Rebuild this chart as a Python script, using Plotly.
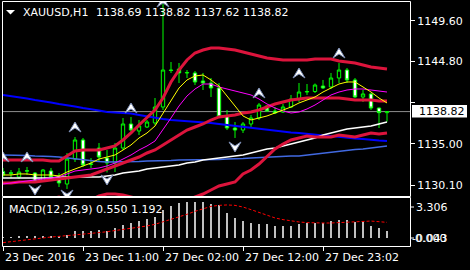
import plotly.graph_objects as go

W, H = 470, 270
FONT = "DejaVu Sans"

# ---------------- data ----------------
bar_index = list(range(49))
time_ticks = [0, 10, 20, 30, 40]
time_labels = ["23 Dec 2016", "23 Dec 11:00", "27 Dec 02:00", "27 Dec 12:00", "27 Dec 23:02"]

opens = [1131.69, 1131.55, 1131.06, 1131.75, 1131.53, 1130.59, 1131.77, 1131.18, 1130.23, 1133.19,
         1135.45, 1132.55, 1134.50, 1133.31, 1132.72, 1134.50, 1137.35, 1136.52, 1136.99, 1137.47,
         1139.36, 1143.75, 1143.87, 1143.40, 1143.40, 1142.45, 1142.21, 1141.62, 1138.30, 1136.87,
         1136.63, 1137.35, 1138.06, 1139.48, 1138.89, 1138.77, 1139.36, 1140.31, 1141.14, 1141.20,
         1141.85, 1141.74, 1142.80, 1143.75, 1142.57, 1140.55, 1140.91, 1139.24, 1138.69]
highs = [1132.13, 1131.89, 1132.13, 1132.25, 1131.65, 1132.01, 1132.13, 1131.53, 1133.91, 1135.80,
         1135.69, 1133.31, 1135.09, 1134.26, 1135.09, 1138.06, 1138.18, 1137.82, 1137.82, 1140.43,
         1151.70, 1144.70, 1144.58, 1143.75, 1143.63, 1143.40, 1142.80, 1142.21, 1139.01, 1137.58,
         1137.58, 1138.42, 1139.84, 1139.60, 1139.36, 1139.72, 1140.79, 1142.21, 1142.09, 1142.15,
         1142.57, 1143.40, 1144.58, 1143.99, 1142.80, 1141.38, 1141.02, 1139.30, 1138.82]
lows = [1130.94, 1130.94, 1130.82, 1131.30, 1130.35, 1130.47, 1130.82, 1129.87, 1129.64, 1132.84,
        1132.25, 1132.13, 1132.96, 1131.60, 1131.65, 1134.26, 1136.28, 1136.04, 1136.87, 1137.23,
        1139.01, 1143.40, 1142.21, 1142.80, 1141.97, 1141.38, 1140.55, 1138.06, 1136.63, 1135.69,
        1136.28, 1136.87, 1137.82, 1138.77, 1138.53, 1138.65, 1139.24, 1139.96, 1140.79, 1141.02,
        1141.50, 1141.50, 1142.21, 1142.21, 1140.43, 1139.96, 1139.01, 1136.87, 1137.62]
closes = [1131.30, 1131.50, 1131.65, 1131.80, 1130.47, 1131.89, 1131.06, 1130.35, 1133.19, 1135.45,
          1132.48, 1132.60, 1133.43, 1132.72, 1134.50, 1137.35, 1136.63, 1137.11, 1137.58, 1139.36,
          1143.75, 1143.70, 1143.40, 1143.45, 1142.33, 1142.21, 1141.62, 1138.18, 1136.87, 1136.63,
          1137.35, 1138.06, 1139.60, 1138.89, 1138.65, 1139.36, 1140.31, 1141.14, 1141.20, 1141.97,
          1141.62, 1142.80, 1143.75, 1142.57, 1140.55, 1140.91, 1139.24, 1138.69, 1138.82]

ma_yellow = [1131.30, 1131.30, 1131.42, 1131.42, 1131.30, 1131.30, 1131.30, 1131.18, 1131.65, 1132.01,
             1132.37, 1132.72, 1133.19, 1133.43, 1133.67, 1134.26, 1134.86, 1135.69, 1136.28, 1137.11,
             1138.65, 1140.19, 1141.62, 1142.57, 1143.04, 1143.16, 1142.57, 1141.85, 1140.67, 1139.36,
             1138.30, 1137.82, 1138.06, 1138.30, 1138.65, 1139.01, 1139.36, 1139.84, 1140.19, 1140.55,
             1141.14, 1141.62, 1142.09, 1142.33, 1142.33, 1141.74, 1141.14, 1140.43, 1139.84]
ma_magenta = [1130.23, 1130.35, 1130.47, 1130.59, 1130.70, 1130.82, 1130.94, 1131.06, 1131.42, 1131.77,
              1131.89, 1132.01, 1132.13, 1132.37, 1132.72, 1133.19, 1133.67, 1134.26, 1134.74, 1135.33,
              1136.63, 1138.06, 1139.48, 1140.67, 1141.50, 1142.09, 1142.09, 1141.74, 1141.50, 1141.26,
              1141.02, 1140.79, 1140.31, 1139.72, 1139.24, 1138.89, 1138.65, 1138.77, 1139.13, 1139.60,
              1140.19, 1140.79, 1141.14, 1141.38, 1141.50, 1141.50, 1141.38, 1141.26, 1141.14]
bb_upper = [1133.08, 1133.08, 1133.08, 1133.08, 1133.08, 1133.08, 1132.96, 1132.96, 1133.55, 1134.14,
            1134.26, 1134.26, 1134.26, 1134.50, 1134.74, 1135.45, 1136.28, 1137.23, 1138.18, 1139.01,
            1140.43, 1142.33, 1143.75, 1144.94, 1145.77, 1146.12, 1146.36, 1146.36, 1146.24, 1146.12,
            1145.89, 1145.65, 1145.41, 1145.18, 1145.06, 1144.94, 1144.94, 1144.94, 1144.94, 1145.06,
            1145.06, 1145.06, 1144.82, 1144.70, 1144.58, 1144.35, 1144.11, 1143.99, 1143.87]
bb_middle = [1130.35, 1130.35, 1130.47, 1130.47, 1130.47, 1130.59, 1130.70, 1130.82, 1130.94, 1131.06,
             1131.18, 1131.30, 1131.65, 1132.01, 1132.37, 1132.72, 1133.08, 1133.43, 1133.91, 1134.26,
             1134.86, 1135.45, 1136.04, 1136.63, 1136.99, 1137.35, 1137.82, 1138.18, 1138.30, 1138.42,
             1138.65, 1138.77, 1139.01, 1139.36, 1139.72, 1139.96, 1140.19, 1140.31, 1140.43, 1140.43,
             1140.43, 1140.43, 1140.43, 1140.31, 1140.19, 1140.19, 1140.19, 1140.08, 1140.08]
bb_lower = [1127.62, 1127.62, 1127.86, 1127.86, 1127.86, 1128.09, 1128.45, 1128.69, 1128.33, 1127.97,
            1128.09, 1128.33, 1128.81, 1129.04, 1129.04, 1128.92, 1128.69, 1128.45, 1128.33, 1128.21,
            1127.97, 1127.74, 1127.86, 1128.33, 1128.69, 1129.04, 1129.52, 1129.99, 1130.23, 1130.47,
            1131.42, 1131.89, 1132.60, 1133.55, 1134.38, 1134.97, 1135.45, 1135.69, 1135.92, 1135.80,
            1135.80, 1135.80, 1136.04, 1135.92, 1135.80, 1136.04, 1136.28, 1136.16, 1136.28]
ma_blue = [1140.79, 1140.67, 1140.55, 1140.37, 1140.19, 1140.08, 1139.90, 1139.72, 1139.60, 1139.42,
           1139.24, 1139.13, 1138.95, 1138.77, 1138.71, 1138.65, 1138.59, 1138.42, 1138.24, 1138.06,
           1137.94, 1137.82, 1137.76, 1137.70, 1137.64, 1137.58, 1137.47, 1137.35, 1137.23, 1137.11,
           1136.99, 1136.87, 1136.75, 1136.63, 1136.52, 1136.40, 1136.34, 1136.28, 1136.16, 1136.04,
           1135.98, 1135.92, 1135.80, 1135.69, 1135.63, 1135.57, 1135.45, 1135.39, 1135.33]
ma_royal = [1133.67, 1133.67, 1133.67, 1133.61, 1133.55, 1133.55, 1133.49, 1133.43, 1133.31, 1133.19,
            1133.08, 1132.96, 1132.90, 1132.84, 1132.84, 1132.84, 1132.84, 1132.90, 1132.96, 1132.96,
            1132.96, 1133.02, 1133.08, 1133.08, 1133.08, 1133.08, 1133.08, 1133.14, 1133.19, 1133.19,
            1133.25, 1133.31, 1133.37, 1133.43, 1133.43, 1133.49, 1133.55, 1133.55, 1133.67, 1133.79,
            1133.91, 1134.03, 1134.14, 1134.26, 1134.32, 1134.38, 1134.50, 1134.62, 1134.74]
ma_white = [1130.94, 1130.94, 1130.94, 1130.94, 1130.94, 1130.94, 1130.94, 1131.06, 1131.06, 1131.06,
            1131.06, 1131.06, 1131.06, 1131.18, 1131.30, 1131.53, 1131.65, 1131.77, 1132.01, 1132.13,
            1132.25, 1132.37, 1132.48, 1132.72, 1132.84, 1133.08, 1133.19, 1133.31, 1133.43, 1133.55,
            1133.67, 1133.91, 1134.14, 1134.38, 1134.50, 1134.74, 1134.97, 1135.21, 1135.45, 1135.69,
            1136.04, 1136.28, 1136.52, 1136.75, 1136.87, 1136.99, 1137.11, 1137.35, 1137.58]

# fractal arrows: bar index and price of the arrow tip
fractal_up_x = [0, 3, 9, 16, 20, 32, 37, 42]
fractal_up_y = [1134.03, 1134.03, 1137.58, 1139.84, 1152.41, 1141.62, 1143.99, 1146.36]
fractal_dn_x = [4, 8, 13, 29]
fractal_dn_y = [1128.92, 1128.33, 1130.11, 1134.03]

macd_hist = [0.01, 0.01, 0.09, 0.11, 0.11, 0.11, 0.14, 0.14, 0.22, 0.55,
             0.55, 0.55, 0.63, 0.55, 0.73, 0.99, 1.17, 1.29, 1.42, 1.60,
             2.14, 2.45, 2.66, 2.78, 2.78, 2.78, 2.60, 2.53, 1.94, 1.55,
             1.29, 1.11, 1.06, 1.03, 0.93, 0.93, 0.93, 1.06, 1.11, 1.11,
             1.17, 1.32, 1.37, 1.37, 1.24, 1.24, 0.93, 0.73, 0.55]
macd_signal = [-0.37, -0.30, -0.20, -0.12, -0.04, 0.01, 0.06, 0.11, 0.16, 0.22,
               0.27, 0.32, 0.40, 0.47, 0.55, 0.63, 0.70, 0.81, 0.91, 1.04,
               1.22, 1.42, 1.60, 1.81, 2.04, 2.24, 2.42, 2.50, 2.53, 2.50,
               2.37, 2.17, 1.94, 1.71, 1.53, 1.40, 1.29, 1.22, 1.17, 1.14,
               1.14, 1.14, 1.17, 1.19, 1.22, 1.27, 1.29, 1.24, 1.19]

price_ticks = [1149.60, 1144.80, 1139.90, 1135.00, 1130.10]
price_tick_text = ["1149.60", "1144.80", "", "1135.00", "1130.10"]   # 1139.90 hidden under price box
last_price = 1138.82
header_symbol = "XAUUSD,H1"
header_ohlc = "1138.69 1138.82 1137.62 1138.82"
macd_label = "MACD(12,26,9) 0.550 1.192"
macd_top_label = "3.306"
macd_bottom_labels = ["0.000", "-0.043"]

# ---------------- layout helpers ----------------
def px(x):
    return x / W

def py(y):
    return 1 - y / H

PLOT_L, PLOT_R = 3, 410
MAIN_T, MAIN_B = 2, 196
MACD_T, MACD_B = 198, 246
BAR_PX = 8.0
ppx = 0.11862  # price per pixel on the main panel

fig = go.Figure()

fig.add_trace(go.Candlestick(
    x=bar_index, open=opens, high=highs, low=lows, close=closes,
    increasing=dict(line=dict(color="#00ff00", width=1), fillcolor="#000000"),
    decreasing=dict(line=dict(color="#00ff00", width=1), fillcolor="#ffffff"),
    whiskerwidth=0, hoverinfo="skip", xaxis="x", yaxis="y", showlegend=False))

def add_line(y, color, width, dash=None):
    fig.add_trace(go.Scatter(x=bar_index, y=y, mode="lines",
                             line=dict(color=color, width=width, dash=dash),
                             hoverinfo="skip", showlegend=False, xaxis="x", yaxis="y"))

add_line(ma_blue, "#0000ff", 2)
add_line(ma_royal, "#4169e1", 1.5)
add_line(ma_white, "#ffffff", 1.5)
add_line(bb_upper, "#dc143c", 3)
add_line(bb_middle, "#dc143c", 3)
add_line(bb_lower, "#dc143c", 3)
add_line(ma_magenta, "#ff00ff", 1)
add_line(ma_yellow, "#ffff00", 1)

# fractal arrowheads (notched), size given in pixels, converted through the axis scales
hw = 6 / BAR_PX          # half width
ah = 10 * ppx            # height
an = 6 * ppx             # notch depth
def arrow_path(xs, ys, direction):
    X, Y = [], []
    for x0, y0 in zip(xs, ys):
        s = -direction
        X += [x0, x0 - hw, x0, x0 + hw, x0, None]
        Y += [y0, y0 + s * ah, y0 + s * an, y0 + s * ah, y0, None]
    return X, Y

for xs, ys, d in [(fractal_up_x, fractal_up_y, 1), (fractal_dn_x, fractal_dn_y, -1)]:
    X, Y = arrow_path(xs, ys, d)
    fig.add_trace(go.Scatter(x=X, y=Y, mode="lines", fill="toself", fillcolor="#ffffff",
                             line=dict(color="#7c8db5", width=1), connectgaps=False,
                             hoverinfo="skip", showlegend=False, xaxis="x", yaxis="y"))

fig.add_trace(go.Bar(x=bar_index, y=macd_hist, width=0.13, marker=dict(color="#c0c0c0", line=dict(width=0)),
                     hoverinfo="skip", showlegend=False, xaxis="x2", yaxis="y2"))
fig.add_trace(go.Scatter(x=bar_index, y=macd_signal, mode="lines",
                         line=dict(color="#ff0000", width=1, dash="3px,2px"),
                         hoverinfo="skip", showlegend=False, xaxis="x2", yaxis="y2"))

xr = [0, (PLOT_R - PLOT_L) / BAR_PX]
y_top = 1149.60 + (20.7 - MAIN_T) * ppx
y_bot = 1149.60 - (MAIN_B - 20.7) * ppx

shapes = []
shapes.append(dict(type="line", xref="paper", yref="y", x0=px(PLOT_L), x1=px(PLOT_R),
                   y0=last_price, y1=last_price, line=dict(color="#8c8c8c", width=1), layer="below"))
for (t, b) in [(MAIN_T, MAIN_B), (MACD_T, MACD_B)]:
    shapes.append(dict(type="rect", xref="paper", yref="paper", x0=px(PLOT_L - 0.5), x1=px(PLOT_R + 0.5),
                       y0=py(b + 0.5), y1=py(t - 0.5), line=dict(color="#ffffff", width=1)))
for yy in [207, 238]:
    shapes.append(dict(type="line", xref="paper", yref="paper", x0=px(PLOT_R), x1=px(PLOT_R + 4),
                       y0=py(yy), y1=py(yy), line=dict(color="#ffffff", width=1)))
shapes.append(dict(type="path", xref="paper", yref="paper",
                   path=f"M {px(6)},{py(10)} L {px(15)},{py(10)} L {px(10.5)},{py(14.5)} Z",
                   fillcolor="#ffffff", line=dict(color="#ffffff", width=0)))
shapes.append(dict(type="rect", xref="paper", yref="paper", x0=px(412), x1=px(467),
                   y0=py(117.5), y1=py(105), fillcolor="#ffffff", line=dict(width=0)))

wf = dict(family=FONT, size=11, color="#ffffff")
annotations = [
    dict(text=header_symbol, xref="paper", yref="paper", x=px(21), y=py(12.5), xanchor="left",
         yanchor="middle", showarrow=False, font=wf),
    dict(text=header_ohlc, xref="paper", yref="paper", x=px(94), y=py(12.5), xanchor="left",
         yanchor="middle", showarrow=False, font=wf),
    dict(text=macd_label, xref="paper", yref="paper", x=px(7), y=py(209), xanchor="left",
         yanchor="middle", showarrow=False, font=wf),
    dict(text=macd_top_label, xref="paper", yref="paper", x=px(414), y=py(207), xanchor="left",
         yanchor="middle", showarrow=False, font=wf),
    dict(text=macd_bottom_labels[0], xref="paper", yref="paper", x=px(413), y=py(238), xanchor="left",
         yanchor="middle", showarrow=False, font=wf),
    dict(text=macd_bottom_labels[1], xref="paper", yref="paper", x=px(410), y=py(238), xanchor="left",
         yanchor="middle", showarrow=False, font=wf),
    dict(text=f"{last_price:.2f}", xref="paper", yref="y", x=px(417), y=last_price, xanchor="left",
         yanchor="middle", showarrow=False, font=dict(family=FONT, size=11, color="#000000")),
]
for t, lab in zip(time_ticks, time_labels):
    annotations.append(dict(text=lab, xref="x2", yref="paper", x=t, y=py(257.5), xanchor="left",
                            yanchor="middle", showarrow=False, font=wf, xshift=-0.5))

fig.update_layout(
    width=W, height=H, margin=dict(l=0, r=0, t=0, b=0),
    paper_bgcolor="#000000", plot_bgcolor="#000000",
    showlegend=False, hovermode=False, boxgap=0.4, bargap=0,
    xaxis=dict(domain=[px(PLOT_L), px(PLOT_R)], range=xr, anchor="y", showgrid=False, zeroline=False,
               showticklabels=False, ticks="", rangeslider=dict(visible=False), fixedrange=True),
    yaxis=dict(domain=[py(MAIN_B), py(MAIN_T)], range=[y_bot, y_top], anchor="x", side="right",
               showgrid=False, zeroline=False, tickmode="array", tickvals=price_ticks,
               ticktext=price_tick_text, ticks="outside", ticklen=4, tickcolor="#ffffff",
               tickfont=wf, fixedrange=True),
    xaxis2=dict(domain=[px(PLOT_L), px(PLOT_R)], range=xr, anchor="y2", showgrid=False, zeroline=False,
                showticklabels=False, tickmode="array", tickvals=time_ticks, ticks="outside",
                ticklen=4, tickcolor="#ffffff", fixedrange=True),
    yaxis2=dict(domain=[py(MACD_B), py(MACD_T)], range=[-0.632, 3.066], anchor="x2", side="right",
                showgrid=False, zeroline=False, showticklabels=False, ticks="", fixedrange=True),
    shapes=shapes, annotations=annotations,
)

fig.write_html("out.html")
